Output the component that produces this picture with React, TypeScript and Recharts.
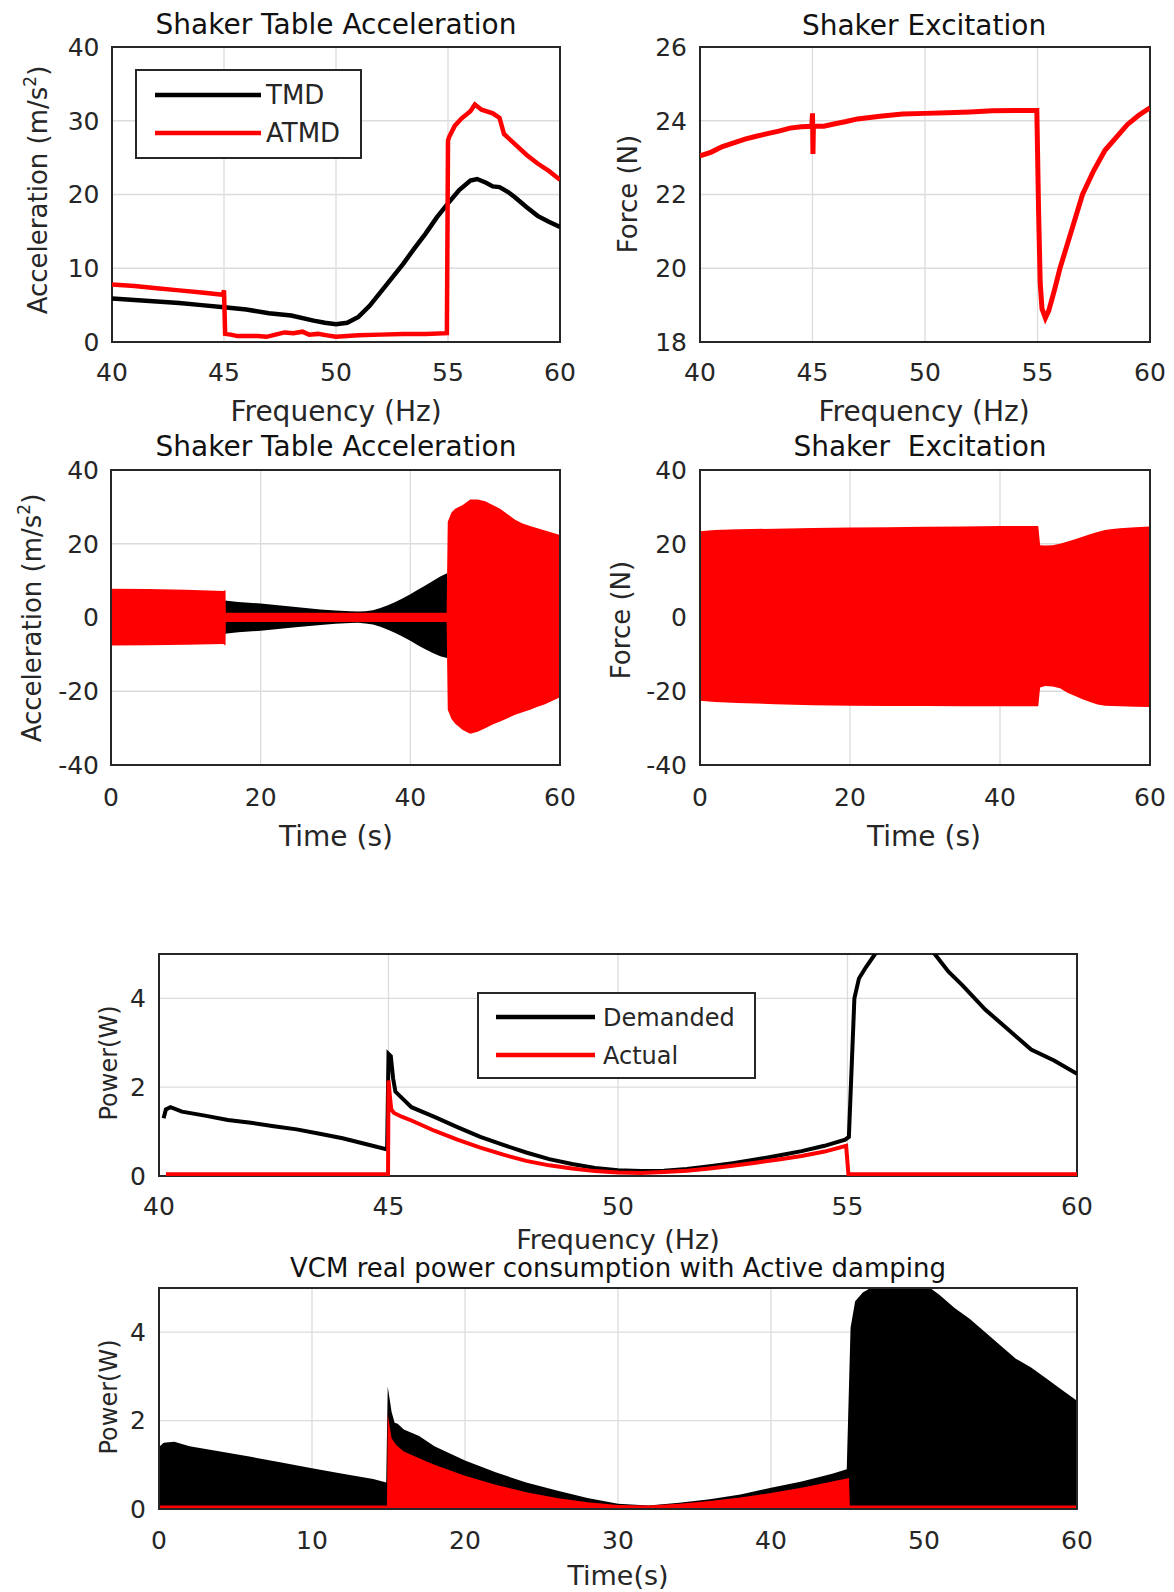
import React from 'react';
import { ComposedChart, Line, Area, XAxis, YAxis, CartesianGrid, ReferenceArea, Legend } from 'recharts';

const FONT = '"DejaVu Sans", "Liberation Sans", sans-serif';
const INK = '#262626';
const GRID = '#dcdcdc';
const RED = '#ff0000';
const BLACK = '#000000';

// ---------- Panel 1: Shaker table acceleration vs frequency ----------
const p1TmdFreq = [40, 41, 42, 43, 44, 45, 46, 47, 48, 49, 49.5, 50, 50.5, 51, 51.5, 52, 52.5, 53, 53.5, 54, 54.5, 55, 55.5, 56, 56.3, 56.7, 57, 57.3, 57.7, 58, 58.5, 59, 59.5, 60];
const p1TmdAcc = [5.9, 5.7, 5.5, 5.3, 5.0, 4.7, 4.4, 3.9, 3.6, 2.9, 2.6, 2.4, 2.6, 3.4, 4.9, 6.8, 8.7, 10.6, 12.7, 14.7, 16.9, 18.8, 20.6, 21.9, 22.1, 21.6, 21.1, 21.0, 20.3, 19.6, 18.3, 17.1, 16.3, 15.6];
const p1AtmdFreq = [40, 41, 42, 43, 44, 44.95, 45.0, 45.05, 45.3, 45.6, 46, 46.5, 46.9, 47.3, 47.7, 48.1, 48.5, 48.8, 49.2, 49.6, 50, 50.5, 51, 52, 53, 54, 54.95, 55.0, 55.05, 55.3, 55.6, 56, 56.2, 56.5, 57, 57.3, 57.5, 58, 58.5, 59, 59.5, 60];
const p1AtmdAcc = [7.8, 7.6, 7.3, 7.0, 6.7, 6.4, 7.0, 1.1, 1.0, 0.8, 0.8, 0.8, 0.7, 1.0, 1.3, 1.2, 1.4, 1.0, 1.1, 0.9, 0.7, 0.8, 0.9, 1.0, 1.1, 1.1, 1.2, 27.3, 27.8, 29.3, 30.3, 31.3, 32.2, 31.5, 31.0, 30.4, 28.2, 26.8, 25.4, 24.2, 23.2, 22.0];

// ---------- Panel 2: Shaker excitation force vs frequency ----------
const p2Freq = [40, 40.5, 41, 41.5, 42, 42.5, 43, 43.5, 44, 44.5, 44.97, 45.0, 45.02, 45.04, 45.5, 46, 46.5, 47, 48, 49, 50, 51, 52, 53, 54, 54.97, 55.05, 55.12, 55.2, 55.35, 55.5, 55.75, 56, 56.5, 57, 57.5, 58, 58.5, 59, 59.5, 60];
const p2Force = [23.05, 23.15, 23.3, 23.4, 23.5, 23.58, 23.65, 23.72, 23.8, 23.84, 23.85, 24.2, 23.1, 23.85, 23.85, 23.92, 23.98, 24.05, 24.12, 24.18, 24.2, 24.22, 24.24, 24.27, 24.28, 24.28, 21.5, 19.6, 18.9, 18.65, 18.85, 19.4, 20.0, 21.0, 22.0, 22.65, 23.2, 23.55, 23.9, 24.15, 24.35];

// ---------- Panel 3: acceleration vs time (envelopes) ----------
const p3AtmdT = [0, 5, 10, 15, 15.3, 15.35, 20, 25, 30, 35, 40, 44.85, 45.0, 45.5, 46, 47, 48, 49, 50, 51, 52, 53, 54, 55, 56, 57, 58, 59, 60];
const p3AtmdHi = [7.8, 7.7, 7.5, 7.2, 7.4, 1.3, 1.3, 1.3, 1.3, 1.3, 1.3, 1.3, 26.0, 28.5, 29.5, 30.5, 32.0, 32.0, 31.5, 30.5, 29.5, 28.0, 26.5, 25.5, 24.8, 24.2, 23.6, 23.0, 22.4];
const p3AtmdLo = [-7.6, -7.5, -7.4, -7.2, -7.6, -1.2, -1.2, -1.2, -1.2, -1.2, -1.2, -1.2, -25.0, -27.5, -28.8, -30.5, -31.5, -31.0, -30.0, -29.0, -28.2, -27.3, -26.4, -25.7, -25.0, -24.2, -23.5, -22.6, -21.6];
const p3TmdT = [15.2, 17, 20, 22, 25, 28, 30, 32, 33, 34, 35, 36, 37, 38, 39, 40, 41, 42, 43, 44, 44.9];
const p3TmdHi = [4.6, 4.2, 3.8, 3.4, 2.8, 2.2, 1.9, 1.7, 1.6, 1.7, 2.0, 2.6, 3.3, 4.2, 5.2, 6.3, 7.5, 8.7, 9.9, 11.1, 12.0];
const p3TmdLo = [-4.4, -4.0, -3.6, -3.2, -2.6, -2.0, -1.7, -1.5, -1.4, -1.6, -1.9, -2.5, -3.3, -4.2, -5.2, -6.3, -7.5, -8.6, -9.6, -10.5, -11.0];

// ---------- Panel 4: force vs time (envelope) ----------
const p4T = [0, 2, 5, 10, 15, 20, 25, 30, 35, 40, 45.1, 45.35, 46, 47, 48, 49, 50, 51, 52, 53, 54, 55, 56, 58, 60];
const p4Hi = [23.4, 23.7, 23.9, 24.1, 24.3, 24.4, 24.5, 24.6, 24.7, 24.8, 24.8, 19.6, 19.5, 19.6, 20.0, 20.6, 21.2, 21.9, 22.6, 23.2, 23.7, 24.0, 24.2, 24.5, 24.7];
const p4Lo = [-22.6, -22.9, -23.2, -23.5, -23.8, -23.9, -24.0, -24.0, -24.1, -24.1, -24.1, -19.0, -18.6, -18.7, -19.2, -20.4, -21.3, -22.2, -22.9, -23.6, -23.9, -24.0, -24.1, -24.2, -24.3];

// ---------- Panel 5: power vs frequency ----------
const p5DemFreq = [40.1, 40.15, 40.25, 40.5, 41, 41.5, 42, 42.5, 43, 43.5, 44, 44.5, 44.97, 45.0, 45.05, 45.1, 45.15, 45.25, 45.5, 46, 46.5, 47, 47.5, 48, 48.5, 49, 49.5, 50, 50.5, 51, 51.5, 52, 52.5, 53, 53.5, 54, 54.5, 54.95, 55.03, 55.15, 55.25, 55.4, 55.6, 56.2, 56.9, 57.2, 57.5, 58, 58.5, 59, 59.5, 60];
const p5DemPow = [1.3, 1.5, 1.55, 1.45, 1.36, 1.26, 1.2, 1.12, 1.05, 0.95, 0.85, 0.72, 0.6, 2.75, 2.7, 2.2, 1.9, 1.8, 1.55, 1.33, 1.1, 0.88, 0.7, 0.53, 0.38, 0.27, 0.18, 0.13, 0.11, 0.12, 0.16, 0.22, 0.29, 0.37, 0.46, 0.56, 0.68, 0.82, 0.88, 4.0, 4.45, 4.7, 5.0, 5.6, 5.0, 4.6, 4.3, 3.75, 3.3, 2.85, 2.6, 2.3];
const p5ActFreq = [40.15, 44.99, 45.0, 45.03, 45.06, 45.12, 45.3, 45.5, 46, 46.5, 47, 47.5, 48, 48.5, 49, 49.5, 50, 50.5, 51, 51.5, 52, 52.5, 53, 53.5, 54, 54.5, 54.97, 55.02, 60];
const p5ActPow = [0.04, 0.04, 2.15, 1.8, 1.5, 1.42, 1.33, 1.25, 1.02, 0.82, 0.64, 0.48, 0.34, 0.24, 0.17, 0.11, 0.08, 0.07, 0.09, 0.12, 0.17, 0.23, 0.3, 0.37, 0.45, 0.55, 0.68, 0.04, 0.04];

// ---------- Panel 6: power vs time (envelopes) ----------
const p6DemT = [0, 0.3, 1, 2, 4, 6, 8, 10, 12, 14, 14.85, 14.95, 15.2, 15.4, 15.6, 16, 17, 18, 20, 22, 24, 26, 28, 30, 32, 34, 36, 38, 40, 42, 44, 44.95, 45.2, 45.5, 46, 46.5, 48, 50, 51, 52, 53, 54, 55, 56, 57, 58, 59, 60];
const p6DemPow = [1.4, 1.5, 1.52, 1.42, 1.3, 1.18, 1.05, 0.92, 0.8, 0.68, 0.6, 2.77, 2.2, 1.95, 1.93, 1.8, 1.65, 1.42, 1.1, 0.83, 0.6, 0.42, 0.25, 0.12, 0.08, 0.14, 0.22, 0.33, 0.48, 0.62, 0.8, 0.9, 4.1, 4.7, 4.9, 5.0, 5.4, 5.1, 4.85, 4.55, 4.3, 4.0, 3.7, 3.4, 3.2, 2.95, 2.7, 2.45];
const p6ActT = [0, 14.9, 14.95, 15.2, 15.5, 16, 17, 18, 20, 22, 24, 26, 28, 30, 32, 34, 36, 38, 40, 42, 44, 45.1, 45.15, 60];
const p6ActPow = [0.08, 0.08, 2.15, 1.6, 1.45, 1.3, 1.15, 1.0, 0.75, 0.55, 0.38, 0.25, 0.15, 0.09, 0.08, 0.12, 0.18, 0.26, 0.36, 0.48, 0.62, 0.7, 0.08, 0.08];

// ---------- ticks ----------
const freqTicks = [40, 45, 50, 55, 60];
const timeTicks20 = [0, 20, 40, 60];
const timeTicks10 = [0, 10, 20, 30, 40, 50, 60];
const accTicks = [0, 10, 20, 30, 40];
const forceTicks = [18, 20, 22, 24, 26];
const symTicks = [-40, -20, 0, 20, 40];
const powTicks = [0, 2, 4];

const rows = (xs: number[], ys: number[]) => xs.map((x, i) => ({ x, y: ys[i] }));
const bands = (xs: number[], lo: number[], hi: number[]) => xs.map((x, i) => ({ x, r: [lo[i], hi[i]] }));
const fills = (xs: number[], ys: number[], base: number) => xs.map((x, i) => ({ x, r: [base, ys[i]] }));

type TextSpec = { x: number; y: number; size: number; content: React.ReactNode; rotate?: boolean; color?: string };

const renderTexts = (texts: TextSpec[]) => (
  <g>
    {texts.map((t, i) => (
      <text
        key={i}
        x={t.x}
        y={t.y}
        textAnchor="middle"
        fontSize={t.size}
        fontFamily={FONT}
        fill={t.color || INK}
        style={{ whiteSpace: 'pre' }}
        transform={t.rotate ? `rotate(-90 ${t.x} ${t.y})` : undefined}
      >
        {t.content}
      </text>
    ))}
  </g>
);

const accLabel = (
  <>
    Acceleration (m/s<tspan dy={-11} fontSize={17}>2</tspan>
    <tspan dy={11}>)</tspan>
  </>
);

type LegendSpec = { left: number; top: number; width: number; height: number; rowsY: number[]; lineX1: number; lineX2: number; textX: number; size: number; order: string[] };

const makeLegendContent = (spec: LegendSpec) => (props: any) => {
  const payload: any[] = props.payload || [];
  return (
    <svg width={spec.width} height={spec.height} style={{ display: 'block' }}>
      <rect x={1} y={1} width={spec.width - 2} height={spec.height - 2} fill="#fff" stroke={INK} strokeWidth={2} />
      {spec.order.map((name, i) => {
        const item = payload.find((p) => p.value === name);
        const color = item ? item.color : BLACK;
        const y = spec.rowsY[i];
        return (
          <g key={name}>
            <line x1={spec.lineX1} x2={spec.lineX2} y1={y} y2={y} stroke={color} strokeWidth={4.5} />
            <text x={spec.textX} y={y + spec.size * 0.36} fontSize={spec.size} fontFamily={FONT} fill={INK}>
              {name}
            </text>
          </g>
        );
      })}
    </svg>
  );
};

type PanelProps = {
  left: number; top: number; width: number; height: number;
  plotL: number; plotT: number; plotR: number; plotB: number;
  xDomain: [number, number]; xTicks: number[];
  yDomain: [number, number]; yTicks: number[];
  xTickMargin: number; yTickMargin: number; tickSize: number;
  texts: TextSpec[];
  legend?: LegendSpec;
  children: React.ReactNode;
};

function Panel(p: PanelProps) {
  const tickStyle = { fontSize: p.tickSize, fill: INK, fontFamily: FONT };
  return (
    <div style={{ position: 'absolute', left: p.left, top: p.top, width: p.width, height: p.height }}>
      <ComposedChart
        width={p.width}
        height={p.height}
        margin={{ top: p.plotT, right: p.width - p.plotR, bottom: 0, left: 0 }}
        style={{ fontFamily: FONT }}
      >
        <CartesianGrid stroke={GRID} strokeWidth={1.3} />
        <XAxis
          type="number"
          dataKey="x"
          domain={p.xDomain}
          ticks={p.xTicks}
          interval={0}
          height={p.height - p.plotB}
          axisLine={false}
          tickLine={false}
          tickSize={0}
          tickMargin={p.xTickMargin}
          tick={tickStyle}
          allowDataOverflow
          label={{ content: () => renderTexts(p.texts) }}
        />
        <YAxis
          type="number"
          domain={p.yDomain}
          ticks={p.yTicks}
          interval={0}
          width={p.plotL}
          axisLine={false}
          tickLine={false}
          tickSize={0}
          tickMargin={p.yTickMargin}
          tick={tickStyle}
          allowDataOverflow
        />
        {p.children}
        <ReferenceArea
          x1={p.xDomain[0]}
          x2={p.xDomain[1]}
          y1={p.yDomain[0]}
          y2={p.yDomain[1]}
          fill="none"
          fillOpacity={0}
          stroke={INK}
          strokeWidth={2}
          ifOverflow="visible"
        />
        {p.legend ? (
          <Legend
            layout="vertical"
            align="center"
            verticalAlign="middle"
            wrapperStyle={{ left: p.legend.left, top: p.legend.top, width: p.legend.width, height: p.legend.height }}
            content={makeLegendContent(p.legend)}
          />
        ) : null}
      </ComposedChart>
    </div>
  );
}

export default function App() {
  return (
    <div style={{ position: 'absolute', left: 0, top: 0, width: 1174, height: 1592, background: '#fff', overflow: 'hidden' }}>
      {/* Panel 1 */}
      <Panel
        left={0} top={0} width={587} height={430}
        plotL={112} plotT={47} plotR={560} plotB={342}
        xDomain={[40, 60]} xTicks={freqTicks} yDomain={[0, 40]} yTicks={accTicks}
        xTickMargin={21} yTickMargin={12.5} tickSize={25}
        texts={[
          { x: 336, y: 34, size: 28, content: 'Shaker Table Acceleration', color: '#111' },
          { x: 336, y: 421, size: 28, content: 'Frequency (Hz)' },
          { x: 47, y: 190, size: 26, content: accLabel, rotate: true },
        ]}
        legend={{ left: 135, top: 69, width: 227, height: 90, rowsY: [26, 64], lineX1: 20, lineX2: 126, textX: 131, size: 26, order: ['TMD', 'ATMD'] }}
      >
        <Line data={rows(p1TmdFreq, p1TmdAcc)} dataKey="y" name="TMD" type="linear" stroke={BLACK} strokeWidth={4.5} dot={false} activeDot={false} isAnimationActive={false} />
        <Line data={rows(p1AtmdFreq, p1AtmdAcc)} dataKey="y" name="ATMD" type="linear" stroke={RED} strokeWidth={4.5} dot={false} activeDot={false} isAnimationActive={false} />
      </Panel>

      {/* Panel 2 */}
      <Panel
        left={587} top={0} width={587} height={430}
        plotL={113} plotT={47} plotR={563} plotB={342}
        xDomain={[40, 60]} xTicks={freqTicks} yDomain={[18, 26]} yTicks={forceTicks}
        xTickMargin={21} yTickMargin={13} tickSize={25}
        texts={[
          { x: 337, y: 35, size: 28, content: 'Shaker Excitation', color: '#111' },
          { x: 337, y: 421, size: 28, content: 'Frequency (Hz)' },
          { x: 50, y: 194, size: 26, content: 'Force (N)', rotate: true },
        ]}
      >
        <Line data={rows(p2Freq, p2Force)} dataKey="y" name="Force" type="linear" stroke={RED} strokeWidth={5} dot={false} activeDot={false} isAnimationActive={false} />
      </Panel>

      {/* Panel 3 */}
      <Panel
        left={0} top={430} width={587} height={430}
        plotL={111} plotT={40} plotR={560} plotB={335}
        xDomain={[0, 60]} xTicks={timeTicks20} yDomain={[-40, 40]} yTicks={symTicks}
        xTickMargin={23} yTickMargin={12} tickSize={25}
        texts={[
          { x: 336, y: 26, size: 28, content: 'Shaker Table Acceleration', color: '#111' },
          { x: 336, y: 416, size: 28, content: 'Time (s)' },
          { x: 41, y: 188, size: 26, content: accLabel, rotate: true },
        ]}
      >
        <Area data={bands(p3TmdT, p3TmdLo, p3TmdHi)} dataKey="r" name="TMD" type="linear" stroke="none" fill={BLACK} fillOpacity={1} dot={false} activeDot={false} isAnimationActive={false} />
        <Area data={bands(p3AtmdT, p3AtmdLo, p3AtmdHi)} dataKey="r" name="ATMD" type="linear" stroke="none" fill={RED} fillOpacity={1} dot={false} activeDot={false} isAnimationActive={false} />
      </Panel>

      {/* Panel 4 */}
      <Panel
        left={587} top={430} width={587} height={430}
        plotL={113} plotT={40} plotR={563} plotB={335}
        xDomain={[0, 60]} xTicks={timeTicks20} yDomain={[-40, 40]} yTicks={symTicks}
        xTickMargin={23} yTickMargin={13} tickSize={25}
        texts={[
          { x: 333, y: 26, size: 28, content: 'Shaker  Excitation', color: '#111' },
          { x: 337, y: 416, size: 28, content: 'Time (s)' },
          { x: 43, y: 190, size: 26, content: 'Force (N)', rotate: true },
        ]}
      >
        <Area data={bands(p4T, p4Lo, p4Hi)} dataKey="r" name="Force" type="linear" stroke="none" fill={RED} fillOpacity={1} dot={false} activeDot={false} isAnimationActive={false} />
      </Panel>

      {/* Panel 5 */}
      <Panel
        left={0} top={930} width={1174} height={336}
        plotL={159} plotT={24} plotR={1077} plotB={246}
        xDomain={[40, 60]} xTicks={freqTicks} yDomain={[0, 5]} yTicks={powTicks}
        xTickMargin={21} yTickMargin={13} tickSize={25}
        texts={[
          { x: 618, y: 319, size: 27, content: 'Frequency (Hz)' },
          { x: 117, y: 133, size: 24, content: 'Power(W)', rotate: true },
        ]}
        legend={{ left: 477, top: 62, width: 279, height: 87, rowsY: [25, 63], lineX1: 19, lineX2: 118, textX: 126, size: 24, order: ['Demanded', 'Actual'] }}
      >
        <Line data={rows(p5DemFreq, p5DemPow)} dataKey="y" name="Demanded" type="linear" stroke={BLACK} strokeWidth={4} dot={false} activeDot={false} isAnimationActive={false} />
        <Line data={rows(p5ActFreq, p5ActPow)} dataKey="y" name="Actual" type="linear" stroke={RED} strokeWidth={4} dot={false} activeDot={false} isAnimationActive={false} />
      </Panel>

      {/* Panel 6 */}
      <Panel
        left={0} top={1250} width={1174} height={342}
        plotL={159} plotT={38} plotR={1077} plotB={259}
        xDomain={[0, 60]} xTicks={timeTicks10} yDomain={[0, 5]} yTicks={powTicks}
        xTickMargin={22} yTickMargin={13} tickSize={25}
        texts={[
          { x: 618, y: 27, size: 26, content: 'VCM real power consumption with Active damping', color: '#111' },
          { x: 618, y: 335, size: 27, content: 'Time(s)' },
          { x: 117, y: 147, size: 24, content: 'Power(W)', rotate: true },
        ]}
      >
        <Area data={fills(p6DemT, p6DemPow, 0)} dataKey="r" name="Demanded" type="linear" stroke="none" fill={BLACK} fillOpacity={1} dot={false} activeDot={false} isAnimationActive={false} />
        <Area data={fills(p6ActT, p6ActPow, 0)} dataKey="r" name="Actual" type="linear" stroke="none" fill={RED} fillOpacity={1} dot={false} activeDot={false} isAnimationActive={false} />
      </Panel>
    </div>
  );
}
